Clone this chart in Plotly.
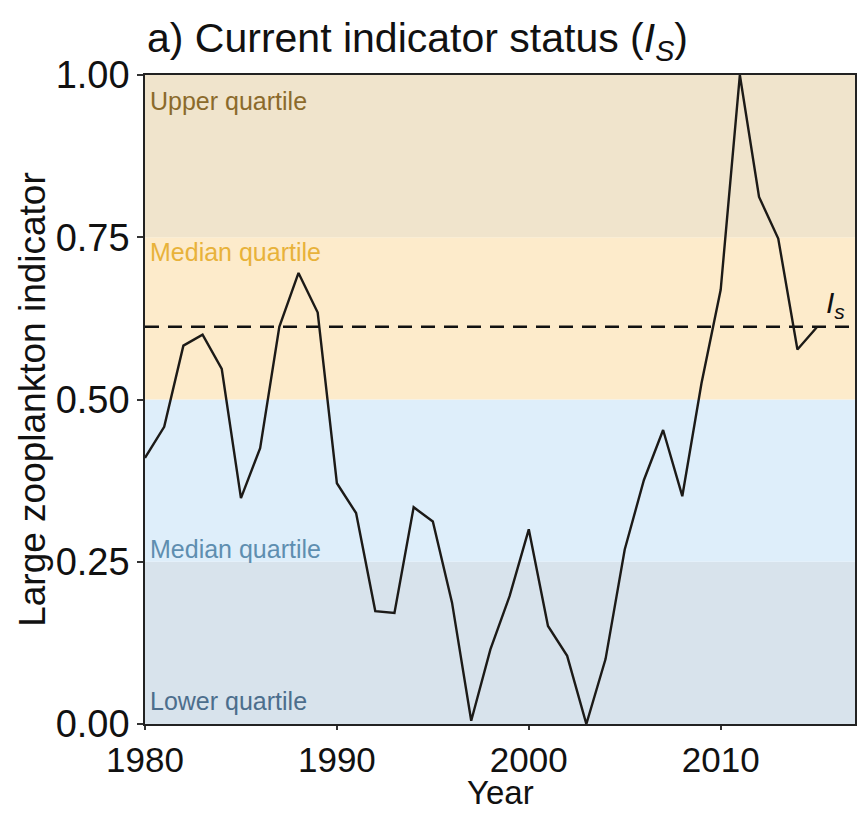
import plotly.graph_objects as go

years = list(range(1980, 2016))
values = [0.41, 0.458, 0.583, 0.600, 0.547, 0.348, 0.425, 0.612, 0.695, 0.634,
          0.371, 0.325, 0.174, 0.171, 0.334, 0.312, 0.187, 0.005, 0.115, 0.197,
          0.300, 0.151, 0.105, 0.000, 0.100, 0.269, 0.376, 0.453, 0.351, 0.525,
          0.669, 1.000, 0.812, 0.748, 0.577, 0.611]
status_value = 0.612

band_edges = [0.0, 0.25, 0.5, 0.75, 1.0]
band_colors = ["#D8E3EC", "#DEEEFA", "#FDEBCB", "#F0E4CC"]
band_labels = ["Lower quartile", "Median quartile", "Median quartile", "Upper quartile"]
label_y = [0.035, 0.27, 0.728, 0.96]
label_colors = ["#4C6E8C", "#5E8EB0", "#E8B23A", "#8B6A2B"]

x_min, x_max = 1980, 2017
x_ticks = [1980, 1990, 2000, 2010]
y_ticks = [0.0, 0.25, 0.5, 0.75, 1.0]
y_ticktext = ["0.00", "0.25", "0.50", "0.75", "1.00"]

FONT = "Liberation Sans, Arial, sans-serif"

# page body has an 8px margin; keep figure inside the viewport (no scrollbars)
W, H = 849, 805
ML, MT, MB, MR = 137, 67, 89, 0
PLOT_H = H - MT - MB
PLOT_BOTTOM = 8 + H - MB

fig = go.Figure()

shapes = []
for i, c in enumerate(band_colors):
    shapes.append(dict(type="rect", xref="x", yref="y", x0=x_min, x1=x_max,
                       y0=band_edges[i], y1=band_edges[i + 1],
                       fillcolor=c, line=dict(width=0), layer="below"))

fig.add_trace(go.Scatter(x=[x_min, x_max], y=[status_value, status_value], mode="lines",
                         line=dict(color="#111111", width=2.5, dash="14px,9px"),
                         hoverinfo="skip", showlegend=False))
fig.add_trace(go.Scatter(x=years, y=values, mode="lines",
                         line=dict(color="#1c1a17", width=2.4),
                         showlegend=False))

annotations = []
for lab, yy, col in zip(band_labels, label_y, label_colors):
    annotations.append(dict(x=x_min, y=yy, xref="x", yref="y", text=lab, showarrow=False,
                            xanchor="left", yanchor="middle", xshift=3,
                            font=dict(family=FONT, size=25, color=col)))
annotations.append(dict(x=2016.0, y=status_value, xref="x", yref="y",
                        text="<i>I</i><sub><i>s</i></sub>", showarrow=False,
                        xanchor="center", yanchor="bottom", yshift=2,
                        font=dict(family=FONT, size=30, color="#111111")))
annotations.append(dict(x=0.5, y=-(813 - PLOT_BOTTOM) / PLOT_H, xref="paper", yref="paper",
                        text="Year", showarrow=False, xanchor="center", yanchor="bottom",
                        font=dict(family=FONT, size=33, color="#111111")))
annotations.append(dict(x=(32 - 145) / (W - ML - MR), y=0.5, xref="paper", yref="paper",
                        text="Large zooplankton indicator", textangle=-90,
                        showarrow=False, xanchor="center", yanchor="middle",
                        font=dict(family=FONT, size=37, color="#111111")))

fig.update_layout(
    width=W, height=H,
    margin=dict(l=ML, r=MR, t=MT, b=MB, pad=0),
    paper_bgcolor="white", plot_bgcolor="white",
    shapes=shapes, annotations=annotations,
    title=dict(text="a) Current indicator status (<i>I</i><sub><i>S</i></sub>)",
               x=(147 - 8) / W, xref="container", xanchor="left",
               y=1 - (38 - 8) / H, yref="container", yanchor="middle",
               font=dict(family=FONT, size=41, color="#111111")),
)
fig.update_xaxes(range=[x_min, x_max], tickvals=x_ticks, ticks="outside", ticklen=4,
                 tickwidth=1.5, tickcolor="#333333", showgrid=False, zeroline=False,
                 showline=True, linecolor="#222222", linewidth=1.5, mirror=True,
                 tickfont=dict(family=FONT, size=35, color="#111111"))
fig.update_yaxes(range=[0, 1], tickvals=y_ticks, ticktext=y_ticktext, ticks="outside",
                 ticklen=6, tickwidth=1.5, tickcolor="#333333", showgrid=False,
                 zeroline=False, showline=True, linecolor="#222222", linewidth=1.5,
                 mirror=True, tickfont=dict(family=FONT, size=38, color="#111111"))

fig.write_html("out.html")
